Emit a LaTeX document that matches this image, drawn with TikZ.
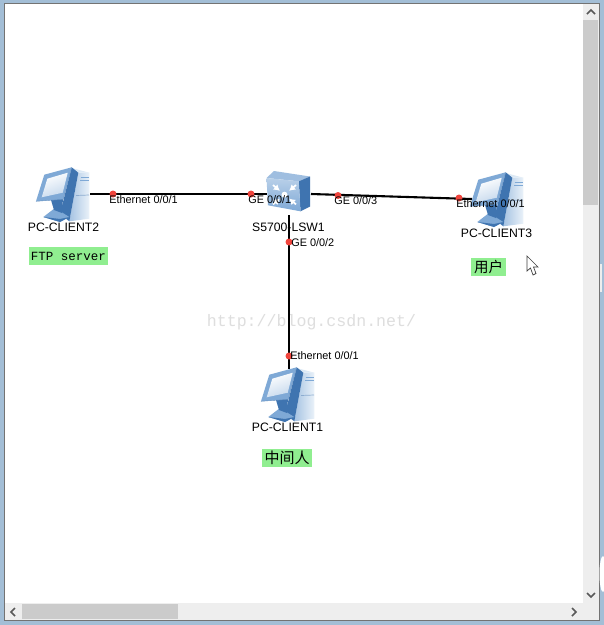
\documentclass[tikz,border=0pt]{standalone}
\usepackage{fontspec}
\setmainfont{Liberation Sans}
\setmonofont{Liberation Mono}
\newfontfamily\cjkfont{Noto Sans CJK SC}
\usepackage{tikz}
\usetikzlibrary{arrows.meta}

\definecolor{framecol}{HTML}{A3BED6}
\definecolor{barcol}{HTML}{EEEEEE}
\definecolor{thumbcol}{HTML}{CBCBCB}
\definecolor{tagcol}{HTML}{90EE90}
\definecolor{dotcol}{HTML}{F0443C}
\definecolor{pcdark}{HTML}{3F74B0}
\definecolor{pcmid}{HTML}{7FA9D6}
\definecolor{pclight}{HTML}{DCE9F5}

\tikzset{
  devbox/.style={inner sep=0pt,outer sep=0pt,minimum width=#1},
  portdot/.style={circle,fill=dotcol,inner sep=0pt,minimum size=7pt},
  portlabel/.style={anchor=west,inner sep=0pt,font=\fontsize{10.9}{12}\selectfont},
  devlabel/.style={inner sep=0pt,font=\fontsize{12.2}{14}\selectfont},
  taglabel/.style={fill=tagcol,inner sep=0pt,minimum height=18pt},
  linkline/.style={line width=2.1pt,black},
  barchev/.style={draw=black!65,line width=1.5pt},
  pcicon/.pic={
    \shade[left color=pcmid!70!white,right color=pclight!60!white] (14.3,-21.3) -- (25.3,-21.3) -- (25.3,24.7) -- (5.3,27.3) -- cycle; %tower
    \fill[pclight] (7.7,-26) -- (25.3,-21.3) -- (14.3,-21.3) -- cycle;
    \fill[pcdark] (7.7,-26.7) -- (14.3,-21.3) -- (5.3,27.3) -- (-4,20) -- cycle;
    \draw[pcmid,line width=0.7pt] (16.5,-17) -- (25,-17);
    \draw[pcmid,line width=0.7pt] (16,-13.7) -- (25,-13.7);
    \draw[pcdark!60,line width=0.7pt] (12,1.5) -- (25,1);
    \fill[pcmid] (-20.7,23) -- (-9,14) -- (5.3,23) -- (-4,28) -- cycle; %base
    \fill[pcdark] (-20.7,23) -- (-4,28) -- (5.3,23) -- (-4,25) -- cycle;
    \fill[pcdark] (-13,6) -- (-1,4) -- (-2,19) -- (-10,16) -- cycle;
    \fill[pcmid] (-19.7,-19.3) -- (7.7,-26.7) -- (-0.7,5.3) -- (-28,7.3) -- cycle; %monitor
    \draw[pcdark!80,line width=0.4pt] (-28,7.3) -- (-0.7,5.3) -- (7.7,-26.7);
    \shade[top color=white,bottom color=pcmid!45!white,shading angle=20] (-16.7,-15.3) -- (3.7,-21.3) -- (-1.3,-1.3) -- (-22.3,3.3) -- cycle;
  },
  swicon/.pic={
    \fill[pcmid!75!white] (-22.5,-16) -- (-15,-23) -- (21,-17.5) -- (9.8,-12.7) -- cycle; %top
    \fill[pcdark] (9.8,-12.7) -- (21,-17.5) -- (21,12.5) -- (11.5,17.3) -- cycle; %side
    \shade[top color=pcmid!55!white,bottom color=pcmid] (-22.5,-16) -- (9.8,-12.7) -- (11.5,17.3) -- (-21,11.3) -- cycle; %front
    \fill[white] (-4.5,0.7) circle (3pt);
    \foreach \ang in {40,140,220,320}{
      \draw[-{Latex[length=6pt,width=7pt]},white,line width=1.8pt,shift={(-4.5,0.7)}] (\ang:15) -- (\ang:6);
    }
  }
}

\begin{document}
\begin{tikzpicture}[x=1pt,y=-1pt,line width=0.2mm]
\useasboundingbox (0,0) rectangle (604,625);

% window
\fill[framecol] (0,0) rectangle (604,625);
\fill[barcol] (4,3) rectangle (599,620);
\fill[white] (5,4) rectangle (583,603);
\draw[black!55,line width=0.6pt] (4,3) -- (599,3) -- (599,620) -- (4,620) -- cycle;
\fill[thumbcol] (583,20) rectangle (598,205);
\fill[thumbcol] (22,604) rectangle (178,619);
\fill[white] (603,574) ellipse (3.5 and 18);
\fill[barcol] (600,264) rectangle (602,292);

% scroll arrows
\draw[barchev] (587,14) -- (591,10) -- (595,14);
\draw[barchev] (587,593) -- (591,597) -- (595,593);
\draw[barchev] (15,608) -- (11,612) -- (15,616);
\draw[barchev] (572,608) -- (576,612) -- (572,616);

% watermark
\node[inner sep=0pt,text=black!13,font=\ttfamily\fontsize{16.6}{18}\selectfont] (mark) at (311.5,322.5) {http://blog.csdn.net/};

% devices
\node[devbox=52pt,minimum height=50pt] (pc2) at (64,194) {};
\node[devbox=52pt,minimum height=50pt] (pc3) at (498,199) {};
\node[devbox=52pt,minimum height=50pt] (pc1) at (289,394) {};
\node[devbox=44pt,minimum height=42pt] (lsw) at (289,194) {};

\draw[linkline] (pc2.east) -- (lsw.west);
\draw[linkline] (lsw.east) -- (pc3.west);
\draw[linkline] (lsw.south) -- (pc1.north);

\pic at (pc2) {pcicon};
\pic at (pc3) {pcicon};
\pic at (pc1) {pcicon};
\pic at (lsw) {swicon};

\draw (113,194)node[portdot](dot1){};
\draw (251,194)node[portdot](dot2){};
\draw (338,195.5)node[portdot](dot3){};
\draw (459,198)node[portdot](dot4){};
\draw (289,242)node[portdot](dot5){};
\draw (289,356)node[portdot](dot6){};

\draw (109,200)node[portlabel](eth2){Ethernet 0/0/1};
\draw (248,199.5)node[portlabel](ge1){GE 0/0/1};
\draw (334,201)node[portlabel](ge3){GE 0/0/3};
\draw (456,204)node[portlabel](eth3){Ethernet 0/0/1};
\draw (291,243)node[portlabel](ge2){GE 0/0/2};
\draw (290,356)node[portlabel](eth1){Ethernet 0/0/1};

\draw (63.5,227.5)node[devlabel](name2){PC-CLIENT2};
\draw (288.5,227.5)node[devlabel](namesw){S5700-LSW1};
\draw (496.5,233)node[devlabel](name3){PC-CLIENT3};
\draw (287.5,427.5)node[devlabel](name1){PC-CLIENT1};

\draw (68.5,256)node[taglabel,minimum width=79pt,font=\ttfamily\fontsize{12.5}{14}\selectfont](tag2){FTP server};
\draw (488.5,267)node[taglabel,minimum width=35pt,font=\cjkfont\fontsize{14.5}{16}\selectfont](tag3){用户};
\draw (287,458)node[taglabel,minimum width=50pt,font=\cjkfont\fontsize{15}{16}\selectfont](tag1){中间人};

% cursor
\draw[draw=black!75,fill=white,line width=0.7pt,line join=miter] (527,256) -- (527,271) -- (530.5,268) -- (533,275) -- (536,273.5) -- (533.5,267) -- (538,267) -- cycle;
\end{tikzpicture}
\end{document}
